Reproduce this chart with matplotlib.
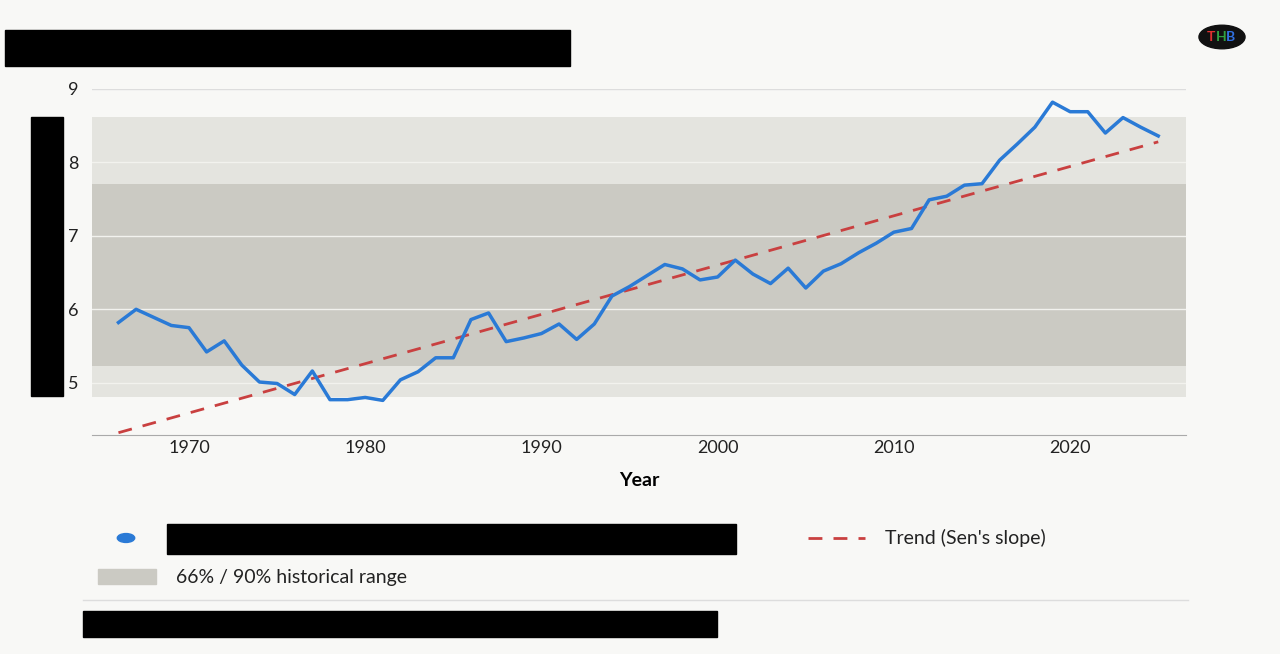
import matplotlib
matplotlib.use("Agg")
import matplotlib.pyplot as plt
from matplotlib.patches import Rectangle, Circle
from matplotlib.lines import Line2D

plt.rcParams['font.family'] = ['Lato', 'DejaVu Sans']

years = list(range(1966, 2026))
values = [5.82, 6.00, 5.89, 5.78, 5.75, 5.42, 5.57, 5.24, 5.01, 4.99,
          4.84, 5.16, 4.77, 4.77, 4.80, 4.76, 5.04, 5.15, 5.34, 5.34,
          5.86, 5.95, 5.56, 5.61, 5.67, 5.80, 5.59, 5.80, 6.18, 6.31,
          6.46, 6.61, 6.55, 6.40, 6.44, 6.67, 6.48, 6.35, 6.56, 6.29,
          6.52, 6.62, 6.77, 6.90, 7.05, 7.10, 7.49, 7.54, 7.69, 7.71,
          8.03, 8.25, 8.48, 8.82, 8.69, 8.69, 8.40, 8.61, 8.48, 8.36]
trend_years = [1966, 2025]
trend_values = [4.32, 8.28]
band90 = (4.81, 8.62)
band66 = (5.23, 7.71)

bg = "#f8f8f6"
fig = plt.figure(figsize=(12.8, 6.54), dpi=100, facecolor=bg)
ax = fig.add_axes([0.0719, 0.335, 0.855, 0.529], facecolor=bg)

ax.axhspan(*band90, color="#e4e4df", zorder=0, lw=0)
ax.axhspan(*band66, color="#cbcac3", zorder=0, lw=0)
for y in range(5, 10):
    ax.axhline(y, color="#f2f2ee" if y < 9 else "#dddddd", lw=1, zorder=1)
ax.plot(years, values, color="#2a7ad6", lw=2.5, zorder=3)
ax.plot(trend_years, trend_values, color="#c94040", lw=2, ls=(0, (5, 4)), zorder=2)

ax.set_xlim(1964.5, 2026.6)
ax.set_ylim(4.29, 9.0)
ax.set_yticks([5, 6, 7, 8, 9])
ax.set_xticks(range(1970, 2030, 10))
for s in ["top", "right", "left"]:
    ax.spines[s].set_visible(False)
ax.spines["bottom"].set_color("#aaaaaa")
ax.tick_params(length=0, labelsize=13, colors="#222222")
ax.tick_params(axis="y", pad=10)
ax.set_xlabel("Year", fontsize=14, fontweight="bold", labelpad=12)

# redacted blocks
for (x, y, w, h) in [(5, 30, 565, 36), (31, 117, 32, 279), (167, 524, 569, 30), (83, 611, 634, 26)]:
    fig.patches.append(Rectangle((x / 1280, 1 - (y + h) / 654), w / 1280, h / 654,
                                 transform=fig.transFigure, color="black"))

# legend
fig.patches.append(Circle((126 / 1280, 1 - 538 / 654), 0.0068, transform=fig.transFigure,
                          color="#2a7ad6"))
fig.lines.append(Line2D([808 / 1280, 865 / 1280], [1 - 538 / 654] * 2, transform=fig.transFigure,
                        color="#c94040", lw=2, ls=(0, (5, 4))))
fig.text(885 / 1280, 1 - 538 / 654, "Trend (Sen's slope)", fontsize=14, va="center", color="#222222")
fig.patches.append(Rectangle((98 / 1280, 1 - 584 / 654), 58 / 1280, 15 / 654,
                             transform=fig.transFigure, color="#cbcac3"))
fig.text(176 / 1280, 1 - 577 / 654, "66% / 90% historical range", fontsize=14, va="center", color="#222222")
fig.lines.append(Line2D([83 / 1280, 1188 / 1280], [1 - 600 / 654] * 2, transform=fig.transFigure,
                        color="#dddddd", lw=1))

# logo
fig.patches.append(Circle((1222 / 1280, 1 - 37 / 654), 0.018, transform=fig.transFigure,
                          color="#111111"))
fig.text(1207 / 1280, 1 - 37 / 654, "T", color="#e03030", fontsize=10, fontweight="bold", va="center")
fig.text(1216 / 1280, 1 - 37 / 654, "H", color="#30a040", fontsize=10, fontweight="bold", va="center")
fig.text(1226 / 1280, 1 - 37 / 654, "B", color="#3070e0", fontsize=10, fontweight="bold", va="center")

fig.savefig("out.png", dpi=100, facecolor=bg)
